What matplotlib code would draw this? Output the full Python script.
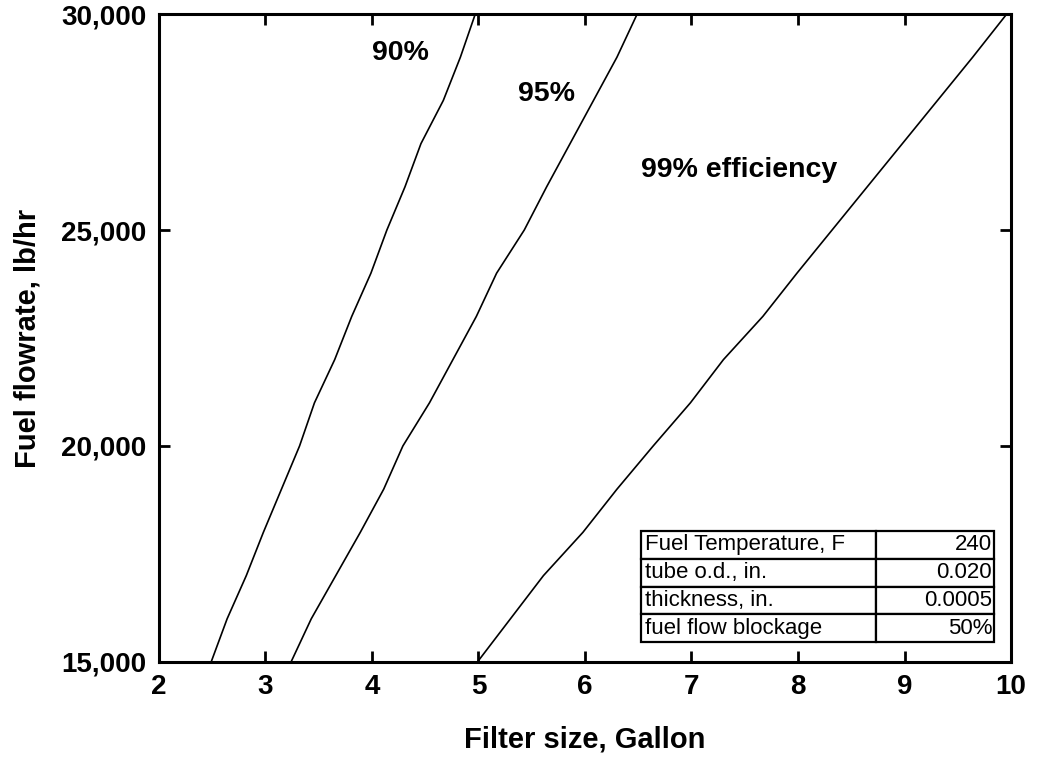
import matplotlib.pyplot as plt
from matplotlib.ticker import FuncFormatter

plt.rcParams['font.family'] = ['Liberation Sans', 'DejaVu Sans']

# Fuel flowrate levels, lb/hr
flow = [15000, 16000, 17000, 18000, 19000, 20000, 21000, 22000,
        23000, 24000, 25000, 26000, 27000, 28000, 29000, 30000]

# Filter size (gallon) needed for each efficiency
size_90 = [2.49, 2.64, 2.82, 2.98, 3.15, 3.32, 3.46, 3.65,
           3.81, 3.99, 4.14, 4.31, 4.46, 4.67, 4.83, 4.97]
size_95 = [3.24, 3.43, 3.66, 3.89, 4.11, 4.29, 4.54, 4.76,
           4.98, 5.17, 5.43, 5.64, 5.86, 6.08, 6.30, 6.49]
size_99 = [4.99, 5.30, 5.61, 5.98, 6.30, 6.64, 6.99, 7.30,
           7.67, 7.99, 8.32, 8.65, 8.98, 9.31, 9.64, 9.96]

table_labels = ['Fuel Temperature, F', 'tube o.d., in.', 'thickness, in.', 'fuel flow blockage']
table_values = ['240', '0.020', '0.0005', '50%']

fig = plt.figure(figsize=(10.41, 7.57), dpi=100)
ax = fig.add_axes([0.1527, 0.1255, 0.8185, 0.856])

for s in [size_90, size_95, size_99]:
    ax.plot(s, flow, color='black', lw=1.2)

ax.text(4.27, 29100, '90%', fontsize=20.5, fontweight='bold', ha='center', va='center')
ax.text(5.64, 28150, '95%', fontsize=20.5, fontweight='bold', ha='center', va='center')
ax.text(6.53, 26400, '99% efficiency', fontsize=20.5, fontweight='bold', ha='left', va='center')

ax.set_xlim(2, 10)
ax.set_ylim(15000, 30000)
ax.set_xticks(range(2, 11))
ax.set_yticks([15000, 20000, 25000, 30000])
ax.yaxis.set_major_formatter(FuncFormatter(lambda v, p: f'{int(v):,}'))
ax.tick_params(direction='in', length=8, width=2, top=True, right=True,
               labelsize=20, pad=9)
for lab in ax.get_xticklabels() + ax.get_yticklabels():
    lab.set_fontweight('bold')
for sp in ax.spines.values():
    sp.set_linewidth(2.2)

ax.set_xlabel('Filter size, Gallon', fontsize=21, fontweight='bold', labelpad=18)
ax.set_ylabel('Fuel flowrate, lb/hr', fontsize=21, fontweight='bold', labelpad=14)

cells = [[a, b] for a, b in zip(table_labels, table_values)]
tbl = ax.table(cellText=cells, colWidths=[0.666, 0.334],
               bbox=[0.566, 0.031, 0.414, 0.171])
tbl.auto_set_font_size(False)
tbl.set_fontsize(16)
for (r, c), cell in tbl.get_celld().items():
    cell.set_linewidth(1.6)
    cell.PAD = 0.015
    cell.set_text_props(ha='left' if c == 0 else 'right')
    cell._loc = 'left' if c == 0 else 'right'

fig.savefig('out.png', dpi=100)
